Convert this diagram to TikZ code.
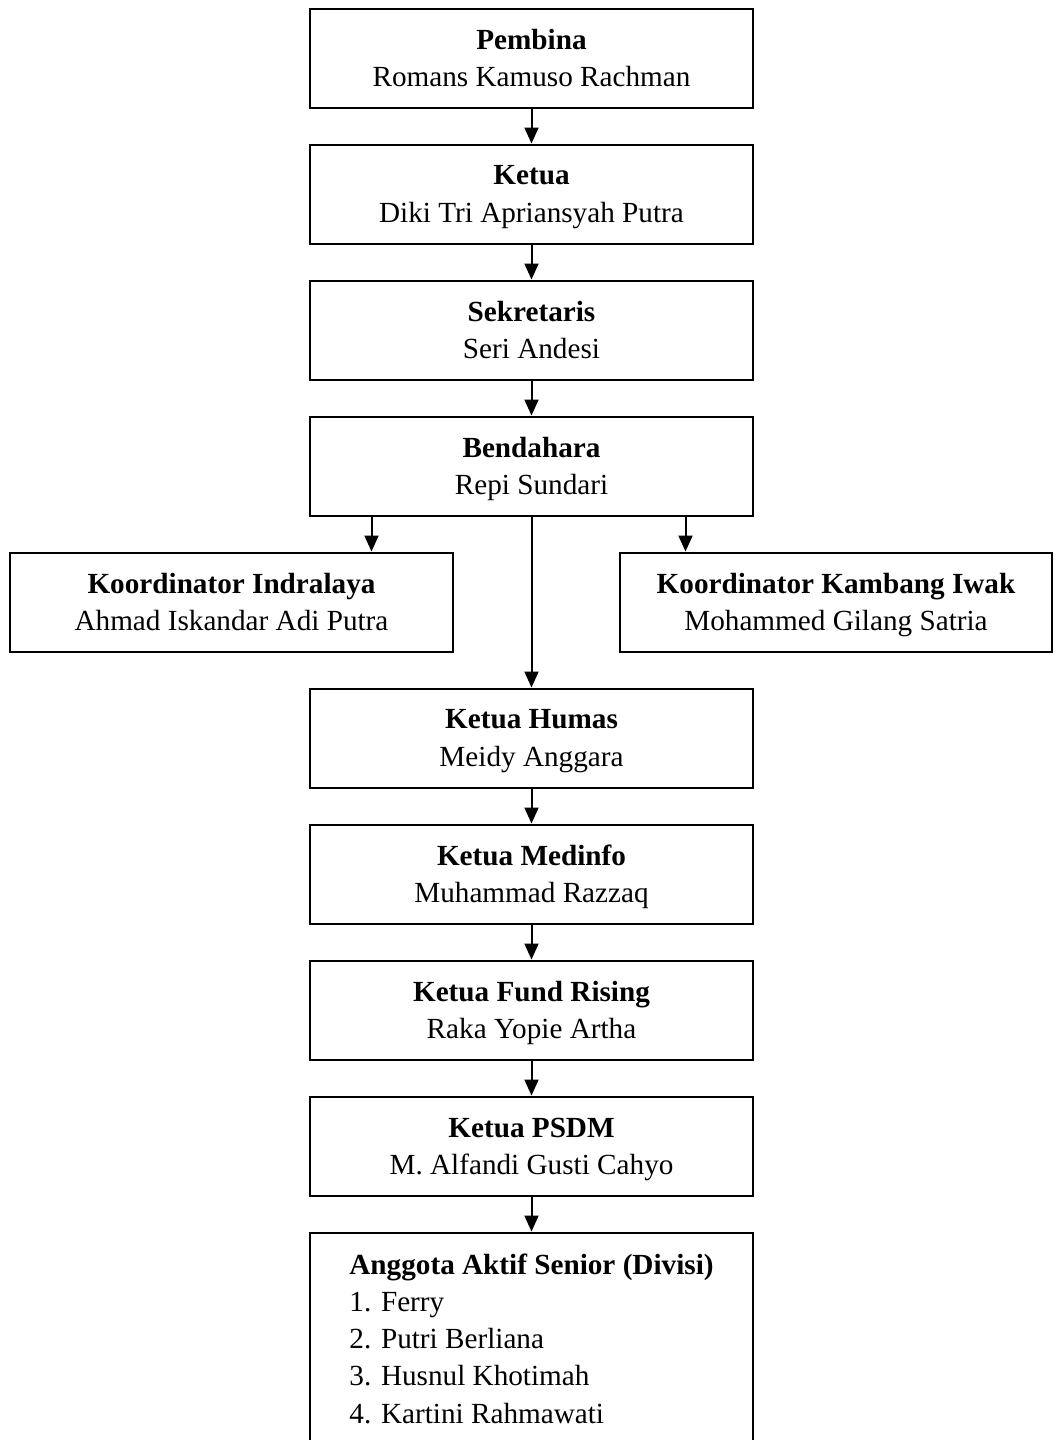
\documentclass[tikz,border=0pt]{standalone}
\usepackage{fontspec}
\setmainfont{Liberation Serif}
\usetikzlibrary{positioning,arrows.meta}

\begin{document}
\begin{tikzpicture}[x=0.5pt,y=-0.5pt,node distance=17.5pt,
		>={Triangle[length=8pt,width=7pt]},
		jabatan/.style={rectangle,draw,line width=1pt,minimum width=221.5pt,minimum height=49.5pt,
			align=center,text depth=0pt,font=\fontsize{14.6}{18.6}\selectfont},
		panah/.style={->,line width=1pt}]
		
		\clip (0,0) rectangle (1057,1440);
		
		\node[jabatan] (pembina) at (531.5,58) {\textbf{Pembina}\\Romans Kamuso Rachman};
		\node[jabatan, below=of pembina] (ketua) {\textbf{Ketua}\\Diki Tri Apriansyah Putra};
		\node[jabatan, below=of ketua] (sekretaris) {\textbf{Sekretaris}\\Seri Andesi};
		\node[jabatan, below=of sekretaris] (bendahara) {\textbf{Bendahara}\\Repi Sundari};
		\node[jabatan, below=of bendahara, xshift=-150pt] (indralaya) {\textbf{Koordinator Indralaya}\\Ahmad Iskandar Adi Putra};
		\node[jabatan, below=of bendahara, xshift=152.25pt, minimum width=216pt] (kambang) {\textbf{Koordinator Kambang Iwak}\\Mohammed Gilang Satria};
		\node[jabatan, below=of indralaya, xshift=150pt] (humas) {\textbf{Ketua Humas}\\Meidy Anggara};
		\node[jabatan, below=of humas] (medinfo) {\textbf{Ketua Medinfo}\\Muhammad Razzaq};
		\node[jabatan, below=of medinfo] (fund) {\textbf{Ketua Fund Rising}\\Raka Yopie Artha};
		\node[jabatan, below=of fund] (psdm) {\textbf{Ketua PSDM}\\M. Alfandi Gusti Cahyo};
		\node[jabatan, below=of psdm, minimum height=106pt, align=left] (anggota) {\textbf{Anggota Aktif Senior (Divisi)}\\1. Ferry\\2. Putri Berliana\\3. Husnul Khotimah\\4. Kartini Rahmawati};
		
		\draw[panah] (pembina) -- (ketua);
		\draw[panah] (ketua) -- (sekretaris);
		\draw[panah] (sekretaris) -- (bendahara);
		\draw[panah] ([xshift=-80pt]bendahara.south) -- ([xshift=-80pt]bendahara.south |- indralaya.north);
		\draw[panah] ([xshift=77pt]bendahara.south) -- ([xshift=77pt]bendahara.south |- kambang.north);
		\draw[panah] (bendahara) -- (humas);
		\draw[panah] (humas) -- (medinfo);
		\draw[panah] (medinfo) -- (fund);
		\draw[panah] (fund) -- (psdm);
		\draw[panah] (psdm) -- (anggota);
\end{tikzpicture}
\end{document}
